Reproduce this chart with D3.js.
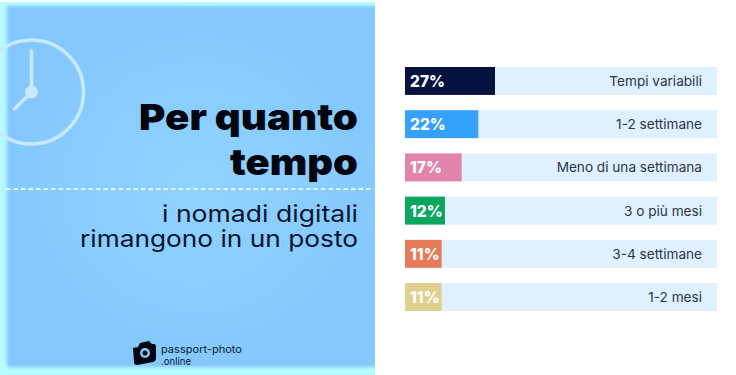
<!DOCTYPE html>
<html>
<head>
<meta charset="utf-8">
<script src="https://cdn.jsdelivr.net/npm/d3@7"></script>
<style>
  html, body { margin: 0; padding: 0; background: #fff; }
  svg { display: block; }
  text { font-family: Inter, "Open Sans", sans-serif; }
</style>
</head>
<body>
<div id="chart"></div>
<script>
// Chart data
const categories = ["Tempi variabili", "1-2 settimane", "Meno di una settimana", "3 o più mesi", "3-4 settimane", "1-2 mesi"];
const values = [27, 22, 17, 12, 11, 11];
const barColors = ["#06123f", "#36a1fd", "#e283ab", "#0ca75f", "#e57b59", "#dfd08f"];
const titleLines = ["Per quanto", "tempo"];
const subtitleLines = ["i nomadi digitali", "rimangono in un posto"];
const logoLines = ["passport-photo", ".online"];

// Widths the lines take in the picture, the installed fonts run narrower
const titleWidths = [219, 128];
const subtitleWidths = [196, 278];
const logoWidths = [81, 30];

const width = 736;
const height = 375;

const svg = d3.select("#chart")
  .append("svg")
    .attr("width", width)
    .attr("height", height);

const defs = svg.append("defs");

// Soft edge of the blue panel
defs.append("filter")
    .attr("id", "soft")
  .append("feGaussianBlur")
    .attr("stdDeviation", 1.8);

defs.append("clipPath")
    .attr("id", "panelClip")
  .append("rect")
    .attr("x", 0)
    .attr("y", 2)
    .attr("width", 375)
    .attr("height", 373);

// Slightly lighter middle of the panel
const glow = defs.append("radialGradient").attr("id", "panelGlow");
glow.append("stop").attr("offset", "0%").attr("stop-color", "#90d3ff");
glow.append("stop").attr("offset", "100%").attr("stop-color", "#84c8fd");

//////////////////
/// LEFT PANEL ///
//////////////////

const panel = svg.append("g").attr("clip-path", "url(#panelClip)");

panel.append("rect")
  .attr("x", 0)
  .attr("y", 2)
  .attr("width", 375)
  .attr("height", 373)
  .attr("fill", "#b6fbff");

panel.append("rect")
  .attr("x", 7)
  .attr("y", 6)
  .attr("width", 380)
  .attr("height", 361)
  .attr("fill", "url(#panelGlow)")
  .attr("filter", "url(#soft)");

// Clock icon
const clock = panel.append("g")
  .attr("transform", "translate(31.5, 92)")
  .attr("stroke", "#c8e9fe")
  .attr("fill", "none")
  .attr("stroke-linecap", "round");

clock.append("circle").attr("r", 52).attr("stroke-width", 3.5);
clock.append("line").attr("x1", 0).attr("y1", 0).attr("x2", 0).attr("y2", -41).attr("stroke-width", 3.5);
clock.append("line").attr("x1", 0).attr("y1", 0).attr("x2", -17).attr("y2", 17).attr("stroke-width", 3.5);
clock.append("circle").attr("r", 6.5).attr("fill", "#c8e9fe").attr("stroke", "none");

// Title
panel.selectAll(".title")
  .data(titleLines)
  .enter()
  .append("text")
    .attr("class", "title")
    .attr("x", 358)
    .attr("y", (d, i) => 130 + i * 45)
    .attr("text-anchor", "end")
    .attr("font-size", 36)
    .attr("font-weight", 900)
    .attr("fill", "#03060f")
    .attr("textLength", (d, i) => titleWidths[i])
    .attr("lengthAdjust", "spacingAndGlyphs")
    .text(d => d);

// Dashed divider
panel.append("line")
  .attr("x1", 6)
  .attr("x2", 374)
  .attr("y1", 189)
  .attr("y2", 189)
  .attr("stroke", "#fff")
  .attr("stroke-width", 1.3)
  .attr("stroke-dasharray", "4.5 3");

// Subtitle
panel.selectAll(".subtitle")
  .data(subtitleLines)
  .enter()
  .append("text")
    .attr("class", "subtitle")
    .attr("x", 358)
    .attr("y", (d, i) => 222 + i * 24.5)
    .attr("text-anchor", "end")
    .attr("font-size", 23)
    .attr("font-weight", 400)
    .attr("fill", "#08142e")
    .attr("textLength", (d, i) => subtitleWidths[i])
    .attr("lengthAdjust", "spacingAndGlyphs")
    .text(d => d);

// Logo
const logo = panel.append("g").attr("transform", "translate(144, 355)");

logo.append("path")
  .attr("d", "M-11,-7 L-6,-8 L-4,-12 L5,-14 L8,-11 L10,-11 Q12,-11 12,-8 L12,3 Q12,6 9,7 L-7,10 Q-10,10 -10,7 Z")
  .attr("fill", "#03060f");
logo.append("circle").attr("cx", 1).attr("cy", -2).attr("r", 5).attr("fill", "#86cafe");
logo.append("circle").attr("cx", 1).attr("cy", -2).attr("r", 2.5).attr("fill", "#03060f");

panel.selectAll(".logo")
  .data(logoLines)
  .enter()
  .append("text")
    .attr("class", "logo")
    .attr("x", 161)
    .attr("y", (d, i) => 353 + i * 12)
    .attr("font-size", 10)
    .attr("fill", "#0a1a33")
    .attr("textLength", (d, i) => logoWidths[i])
    .attr("lengthAdjust", "spacingAndGlyphs")
    .text(d => d);

////////////////
/// BAR CHART ///
////////////////

// One percent point is 3.33px, the pale tracks run on past the biggest bar
const x = d3.scaleLinear()
  .domain([0, 27])
  .range([405, 495]);

const y = d3.scaleBand()
  .domain(categories)
  .range([67, 311])
  .paddingInner(0.354);

svg.selectAll(".track")
  .data(categories)
  .enter()
  .append("rect")
    .attr("class", "track")
    .attr("x", 405)
    .attr("y", d => y(d))
    .attr("width", 312)
    .attr("height", y.bandwidth())
    .attr("fill", "#dff0fe");

svg.selectAll(".bar")
  .data(values)
  .enter()
  .append("rect")
    .attr("class", "bar")
    .attr("x", x(0))
    .attr("y", (d, i) => y(categories[i]))
    .attr("width", d => x(d) - x(0))
    .attr("height", y.bandwidth())
    .attr("fill", (d, i) => barColors[i]);

svg.selectAll(".pct")
  .data(values)
  .enter()
  .append("text")
    .attr("class", "pct")
    .attr("x", 410)
    .attr("y", (d, i) => y(categories[i]) + y.bandwidth() / 2 + 6)
    .attr("font-size", 15.5)
    .attr("font-weight", 800)
    .attr("fill", "#fff")
    .text(d => d + "%");

svg.selectAll(".cat")
  .data(categories)
  .enter()
  .append("text")
    .attr("class", "cat")
    .attr("x", 702)
    .attr("y", d => y(d) + y.bandwidth() / 2 + 5)
    .attr("text-anchor", "end")
    .attr("font-size", 13.6)
    .attr("fill", "#2a3548")
    .text(d => d);
</script>
</body>
</html>
